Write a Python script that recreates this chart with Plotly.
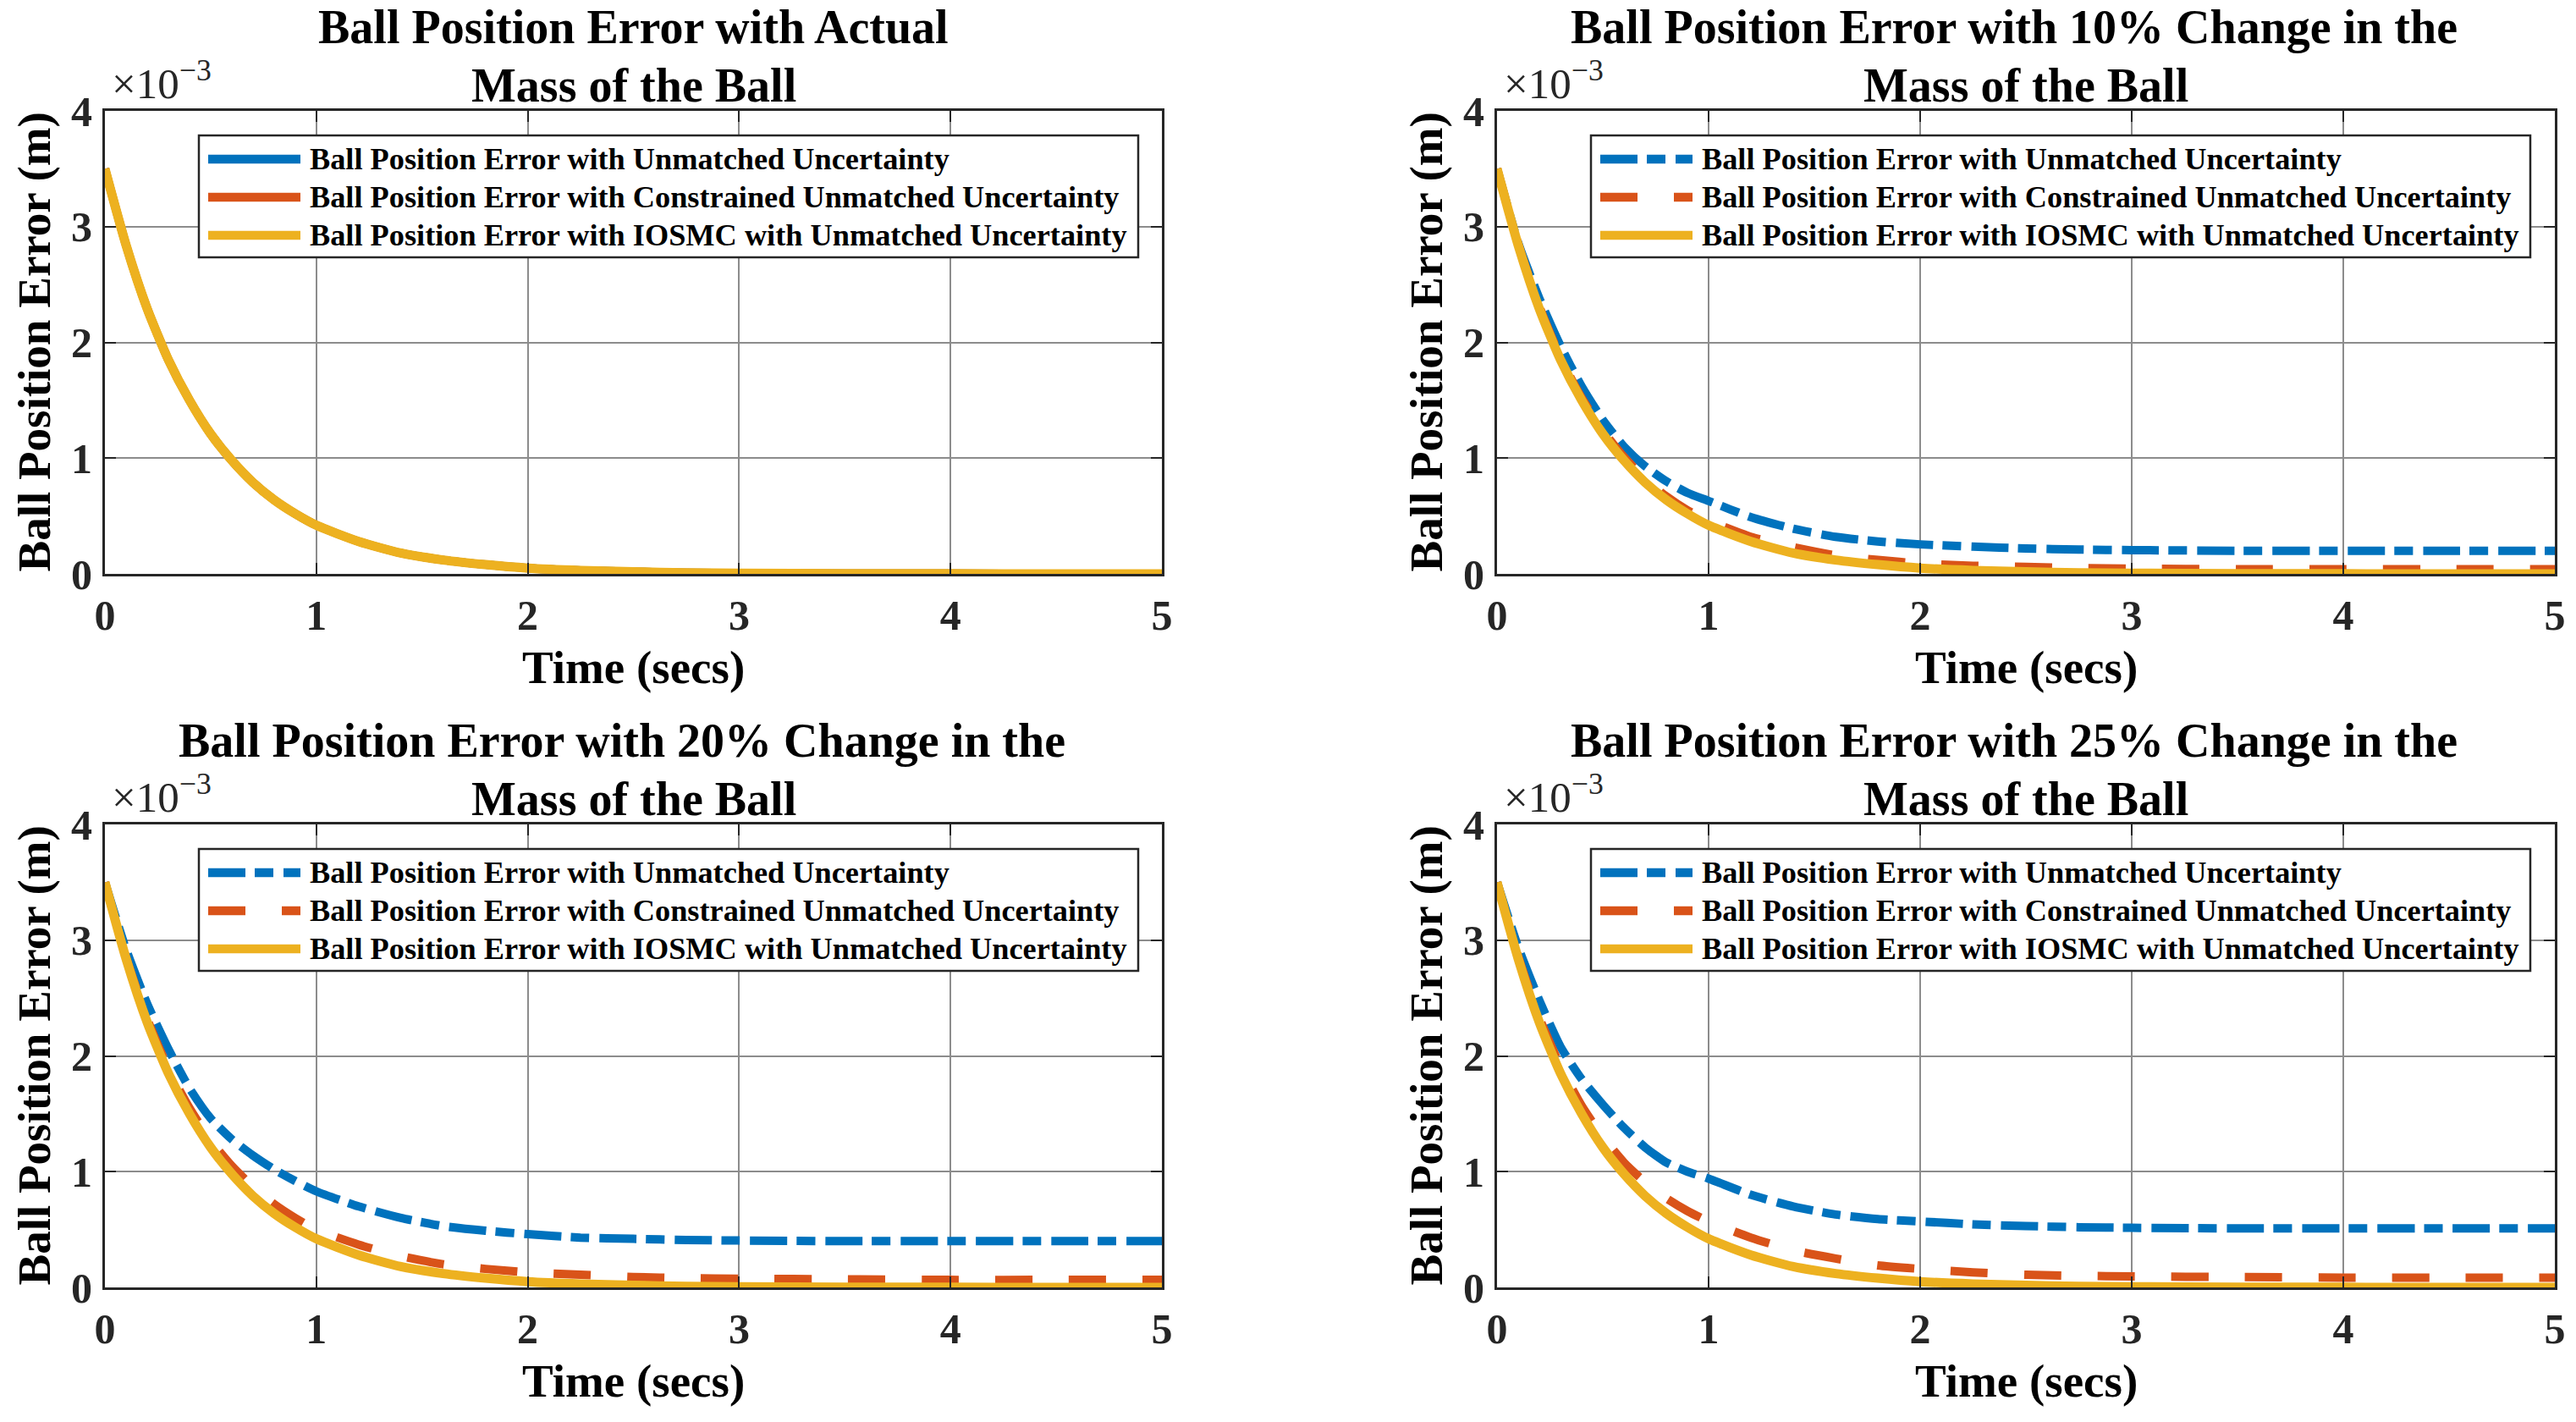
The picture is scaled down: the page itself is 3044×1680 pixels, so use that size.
import plotly.graph_objects as go

# ---------------- data (position error, units of 1e-3 m) ----------------
t = [0, 0.1, 0.2, 0.3, 0.4, 0.5, 0.6, 0.7, 0.8, 0.9, 1.0, 1.2, 1.4, 1.6, 1.8,
     2.0, 2.25, 2.5, 2.75, 3.0, 3.5, 4.0, 4.5, 5.0]

iosmc = [3.5, 2.84, 2.29, 1.85, 1.50, 1.21, 0.98, 0.79, 0.64, 0.52, 0.42, 0.28,
         0.18, 0.12, 0.08, 0.05, 0.03, 0.018, 0.01, 0.006, 0.002, 0.001, 0.0, 0.0]

actual_unmatched = iosmc
actual_constrained = iosmc

unmatched_10 = [3.5, 2.86, 2.38, 1.97, 1.62, 1.33, 1.10, 0.93, 0.80, 0.70, 0.63, 0.49,
                0.39, 0.32, 0.28, 0.255, 0.235, 0.22, 0.21, 0.205, 0.20, 0.20, 0.20, 0.20]
constrained_10 = [3.5, 2.85, 2.31, 1.87, 1.52, 1.24, 1.01, 0.82, 0.67, 0.55, 0.46, 0.32,
                  0.23, 0.16, 0.12, 0.09, 0.07, 0.06, 0.05, 0.045, 0.04, 0.04, 0.04, 0.04]

unmatched_20 = [3.5, 2.92, 2.45, 2.06, 1.72, 1.46, 1.28, 1.14, 1.02, 0.92, 0.83, 0.70,
                0.60, 0.53, 0.49, 0.46, 0.43, 0.42, 0.41, 0.405, 0.40, 0.40, 0.40, 0.40]
constrained_20 = [3.5, 2.85, 2.32, 1.89, 1.55, 1.27, 1.05, 0.87, 0.72, 0.60, 0.50, 0.37,
                  0.27, 0.20, 0.16, 0.13, 0.11, 0.09, 0.08, 0.075, 0.07, 0.065, 0.065, 0.065]

unmatched_25 = [3.5, 2.94, 2.48, 2.08, 1.80, 1.58, 1.38, 1.21, 1.08, 1.00, 0.94, 0.80,
                0.70, 0.63, 0.59, 0.57, 0.545, 0.53, 0.52, 0.515, 0.51, 0.51, 0.51, 0.51]
constrained_25 = [3.5, 2.86, 2.33, 1.91, 1.57, 1.30, 1.08, 0.91, 0.77, 0.66, 0.57, 0.43,
                  0.32, 0.25, 0.19, 0.16, 0.13, 0.11, 0.10, 0.095, 0.09, 0.085, 0.085, 0.085]

titles = [
    ["Ball Position Error with Actual", "Mass of the Ball"],
    ["Ball Position Error with 10% Change in the", "Mass of the Ball"],
    ["Ball Position Error with 20% Change in the", "Mass of the Ball"],
    ["Ball Position Error with 25% Change in the", "Mass of the Ball"],
]
series_names = [
    "Ball Position Error with Unmatched Uncertainty",
    "Ball Position Error with Constrained Unmatched Uncertainty",
    "Ball Position Error with IOSMC with Unmatched Uncertainty",
]
x_ticks = [0, 1, 2, 3, 4, 5]
y_ticks = [0, 1, 2, 3, 4]
y_tick_labels = ["0", "1", "2", "3", "4"]
x_title = "Time (secs)"
y_title = "Ball Position Error (m)"

panels = [
    (actual_unmatched, actual_constrained, iosmc),
    (unmatched_10, constrained_10, iosmc),
    (unmatched_20, constrained_20, iosmc),
    (unmatched_25, constrained_25, iosmc),
]

# ---------------- styling / layout ----------------
FONT = "Liberation Serif, Times New Roman, serif"
BLUE, RED, YELLOW = "#0072BD", "#D95319", "#EDB120"
DASHDOT = "44px,11px,22px,12px"
DASH = "44px,43px"
styles_plain = ["solid", "solid", "solid"]
styles_var = [DASHDOT, DASH, "solid"]
colors = [BLUE, RED, YELLOW]

W, H = 3044, 1680
ML, MR, MT, MB = 124, 25, 131, 159
PW, PH = W - ML - MR, H - MT - MB
boxes = [(124, 1373, 131, 678), (1769, 3019, 131, 678),
         (124, 1373, 974, 1521), (1769, 3019, 974, 1521)]


def fx(px):
    return (px - ML) / PW


def fy(py):
    return (H - MB - py) / PH


fig = go.Figure()
layout = dict(
    width=W, height=H, autosize=False,
    margin=dict(l=ML, r=MR, t=MT, b=MB, pad=0),
    paper_bgcolor="white", plot_bgcolor="white",
    showlegend=False,
    font=dict(family=FONT, color="black"),
)
annotations = []
shapes = []

for i, (box, data, ttl) in enumerate(zip(boxes, panels, titles)):
    x0, x1, y0, y1 = box
    sfx = "" if i == 0 else str(i + 1)
    xa, ya = "x" + sfx, "y" + sfx
    styles = styles_plain if i == 0 else styles_var
    widths = [10, 10, 11]
    for k in range(3):
        fig.add_trace(go.Scatter(
            x=t, y=[v * 1e-3 for v in data[k]], mode="lines", name=series_names[k],
            line=dict(color=colors[k], width=widths[k], dash=styles[k],
                      shape="spline", smoothing=0.6),
            xaxis=xa, yaxis=ya, cliponaxis=False, hoverinfo="skip",
        ))
    axis_common = dict(
        ticks="inside", ticklen=13, tickwidth=2, tickcolor="#262626",
        showgrid=True, gridcolor="#8c8c8c", gridwidth=2,
        showline=True, linecolor="#262626", linewidth=3, mirror="ticks",
        zeroline=False,
        tickfont=dict(family=FONT, size=50, color="#262626", weight="bold"),
        fixedrange=True,
    )
    layout["xaxis" + sfx] = dict(
        axis_common, domain=[fx(x0), fx(x1)], range=[0, 5], tickvals=x_ticks,
        anchor=ya, ticklabelstandoff=3,
    )
    layout["yaxis" + sfx] = dict(
        axis_common, domain=[fy(y1), fy(y0)], range=[0, 0.004],
        tickvals=[v * 1e-3 for v in y_ticks], ticktext=y_tick_labels,
        anchor=xa, ticklabelstandoff=2,
    )
    cx = (x0 + x1) / 2
    tfont = dict(family=FONT, size=56, color="black", weight="bold")
    shift1 = -14 if ttl[0].endswith("the") else 0
    # titles
    annotations.append(dict(text=ttl[0], x=fx(cx + shift1), y=fy(y0 - 99),
                            xref="paper", yref="paper", xanchor="center", yanchor="middle",
                            showarrow=False, font=tfont, borderpad=0))
    annotations.append(dict(text=ttl[1], x=fx(cx), y=fy(y0 - 30),
                            xref="paper", yref="paper", xanchor="center", yanchor="middle",
                            showarrow=False, font=tfont, borderpad=0))
    # axis titles
    annotations.append(dict(text=x_title, x=fx(cx), y=fy(y1 + 110),
                            xref="paper", yref="paper", xanchor="center", yanchor="middle",
                            showarrow=False,
                            font=dict(family=FONT, size=55, color="black", weight="bold")))
    annotations.append(dict(text=y_title, x=fx(x0 - 84), y=fy((y0 + y1) / 2),
                            xref="paper", yref="paper", xanchor="center", yanchor="middle",
                            textangle=-90, showarrow=False,
                            font=dict(family=FONT, size=55, color="black", weight="bold")))
    # exponent label
    annotations.append(dict(text="×10<sup>−3</sup>", x=fx(x0 + 7), y=fy(y0 - 3),
                            xref="paper", yref="paper", xanchor="left", yanchor="bottom",
                            showarrow=False, borderpad=0,
                            font=dict(family=FONT, size=51, color="#262626", weight="normal")))
    # legend box
    lx0, lx1, ly0, ly1 = x0 + 111, x0 + 1221, y0 + 29, y0 + 173
    shapes.append(dict(type="rect", xref="paper", yref="paper", layer="above",
                       x0=fx(lx0), x1=fx(lx1), y0=fy(ly1), y1=fy(ly0),
                       fillcolor="white", line=dict(color="#262626", width=2.5)))
    for k in range(3):
        ry = y0 + 57 + 45 * k
        shapes.append(dict(type="line", xref="paper", yref="paper", layer="above",
                           x0=fx(x0 + 122), x1=fx(x0 + 231), y0=fy(ry), y1=fy(ry),
                           line=dict(color=colors[k], width=10.5, dash=styles[k])))
        annotations.append(dict(text=series_names[k], x=fx(x0 + 240), y=fy(ry),
                                xref="paper", yref="paper", xanchor="left", yanchor="middle",
                                showarrow=False,
                                font=dict(family=FONT, size=36.3, color="black", weight="bold")))

layout["annotations"] = annotations
layout["shapes"] = shapes
fig.update_layout(**layout)

fig.write_html("out.html", config={"displayModeBar": False, "staticPlot": True},
               post_script="document.body.style.margin='0px';document.body.style.overflow='hidden';")
